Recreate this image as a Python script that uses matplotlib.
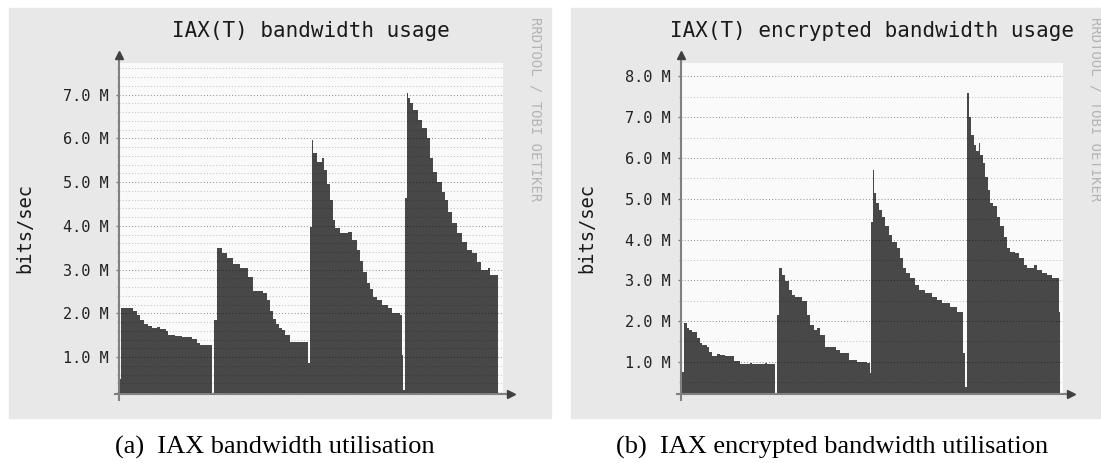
import numpy as np
import matplotlib.pyplot as plt
from matplotlib.patches import Rectangle
from matplotlib.ticker import MultipleLocator, FuncFormatter

W, H = 1101, 463

# --- data (step start in samples, value in Mbit/s) ---
plain_t = [0, 2, 14, 18, 21, 25, 29, 33, 38, 41, 47, 49, 56, 63, 73, 78, 81,
           93, 95, 98, 103, 108, 114, 121, 129, 134, 144, 148, 151, 154, 157,
           160, 163, 166, 171, 189, 191, 193, 194, 198, 203, 205, 208, 211,
           214, 216, 221, 229, 233, 238, 241, 244, 248, 251, 254, 258, 263,
           269, 273, 281, 283, 284, 286, 288, 289, 291, 294, 299, 303, 308,
           311, 314, 318, 323, 326, 329, 333, 338, 343, 348, 353, 358, 362,
           369, 371]
plain_mbps = [0.50, 2.12, 2.06, 1.96, 1.85, 1.77, 1.71, 1.67, 1.70, 1.65, 1.60,
              1.51, 1.48, 1.47, 1.41, 1.33, 1.29,
              0.00, 1.85, 3.49, 3.37, 3.26, 3.14, 3.03, 2.84, 2.52, 2.46, 2.31,
              2.05, 1.88, 1.75, 1.66, 1.62, 1.51, 1.35,
              0.87, 3.98, 5.96, 5.66, 5.46, 5.55, 5.27, 4.95, 4.59, 4.13, 3.94,
              3.83, 3.87, 3.68, 3.45, 3.20, 2.95, 2.70, 2.55, 2.38, 2.30, 2.20,
              2.12, 2.00, 1.96,
              1.05, 0.25, 4.63, 7.04, 6.91, 6.80, 6.64, 6.42, 6.23, 6.00, 5.54,
              5.24, 5.00, 4.78, 4.59, 4.32, 4.06, 3.83, 3.64, 3.46, 3.37, 3.18,
              2.99, 3.03, 2.88]
plain_end = 379

enc_t = [0, 3, 6, 8, 11, 16, 19, 21, 26, 28, 31, 36, 39, 44, 53, 59, 69, 71,
         84, 86, 94, 96, 98, 101, 104, 108, 111, 114, 121, 126, 129, 133, 136,
         139, 144, 149, 155, 159, 168, 176, 186, 189, 190, 192, 193, 195, 198,
         201, 204, 208, 211, 216, 219, 222, 225, 229, 234, 238, 244, 251, 256,
         261, 269, 276, 282, 284, 286, 288, 290, 293, 295, 298, 299, 302, 304,
         307, 309, 312, 316, 319, 323, 326, 329, 334, 338, 343, 346, 353, 356,
         361, 366, 371, 378]
enc_mbps = [0.74, 1.96, 1.82, 1.78, 1.72, 1.58, 1.45, 1.40, 1.36, 1.25, 1.15,
            1.18, 1.17, 1.14, 1.03, 0.94, 0.98, 0.94, 0.98, 0.94,
            0.00, 2.15, 3.29, 3.13, 2.97, 2.76, 2.64, 2.58, 2.48, 2.15, 1.90,
            1.78, 1.82, 1.66, 1.37, 1.37, 1.29, 1.21, 1.05, 0.99, 0.96,
            0.72, 4.44, 5.71, 5.13, 4.89, 4.73, 4.56, 4.32, 4.11, 3.95, 3.79,
            3.54, 3.29, 3.17, 3.05, 2.89, 2.76, 2.68, 2.60, 2.52, 2.44, 2.35,
            2.23,
            1.21, 0.39, 7.59, 7.01, 6.57, 6.32, 6.16, 6.36, 6.07, 5.87, 5.54,
            5.22, 4.89, 4.81, 4.56, 4.32, 4.07, 3.79, 3.70, 3.66, 3.54, 3.38,
            3.29, 3.38, 3.25, 3.17, 3.13, 3.05, 2.23]
enc_end = 379

plt.rcParams["font.family"] = "DejaVu Sans Mono"

fig = plt.figure(figsize=(W / 100, H / 100), dpi=100)
fig.patch.set_facecolor("white")


def fx(px):
    return px / W


def fy(py):
    return 1 - py / H


# grey rrdtool canvases
for x0, x1 in [(9, 551), (571, 1101)]:
    fig.patches.append(Rectangle((fx(x0), fy(418)), fx(x1 - x0), (418 - 8) / H,
                                 transform=fig.transFigure, color="#e8e8e8",
                                 zorder=-5))


def rrd_panel(x_left, x_right, t, v, t_end, ylo, yhi, minor, title, title_x,
              label_x, mark_x):
    ax = fig.add_axes([fx(x_left), fy(394), fx(x_right - x_left), (394 - 63) / H])
    ax.set_zorder(1)
    ax.set_facecolor("#fafafa")
    xs = np.append(t, t_end)
    ys = np.append(v, v[-1])
    ax.fill_between(xs, ys, step="post", color="#484848", lw=0, zorder=1)
    ax.set_xlim(0, x_right - x_left)
    ax.set_ylim(ylo, yhi)

    ax.yaxis.set_major_locator(MultipleLocator(1))
    ax.yaxis.set_minor_locator(MultipleLocator(minor))
    ax.yaxis.set_major_formatter(FuncFormatter(lambda val, _: f"{val:.1f} M"))
    ax.set_xticks([])
    ax.set_axisbelow(False)
    ax.grid(which="minor", axis="y", color="black", alpha=0.22, lw=0.75,
            linestyle=(0, (1, 2)))
    ax.grid(which="major", axis="y", color="black", alpha=0.4, lw=0.75,
            linestyle=(0, (1, 2)))
    ax.tick_params(axis="y", which="major", length=2.5, width=1, color="#808080",
                   labelsize=11, labelcolor="#222222", pad=4.7)
    ax.tick_params(axis="y", which="minor", length=1.5, width=0.8, color="#a0a0a0")
    for s in ax.spines.values():
        s.set_visible(False)

    # axes with arrows, rrdtool style
    xr = 1 + 8 / (x_right - x_left)
    ax.plot([0, 0], [-0.018, 1.015], transform=ax.transAxes, clip_on=False,
            color="#808080", lw=1.5, zorder=5)
    ax.plot([-0.01, xr - 0.01], [0, 0], transform=ax.transAxes, clip_on=False,
            color="#808080", lw=1.5, zorder=5)
    ax.plot([0], [1.024], marker="^", ms=6, color="#404040",
            transform=ax.transAxes, clip_on=False, zorder=6)
    ax.plot([xr], [0], marker=">", ms=6, color="#404040",
            transform=ax.transAxes, clip_on=False, zorder=6)

    fig.text(fx(title_x), fy(31), title, fontsize=15, color="#1a1a1a",
             ha="center", va="center")
    fig.text(fx(label_x), fy(228), "bits/sec", fontsize=13.5, color="#1a1a1a",
             rotation=90, ha="center", va="center")
    fig.text(fx(mark_x), fy(109), "RRDTOOL / TOBI OETIKER", fontsize=10,
             color="#b4b4b4", rotation=270, ha="center", va="center")
    return ax


rrd_panel(119, 503, plain_t, plain_mbps, plain_end, 0.16, 7.72, 0.2,
          "IAX(T) bandwidth usage", 310.5, 25, 535)
rrd_panel(680.7, 1063, enc_t, enc_mbps, enc_end, 0.21, 8.33, 0.5,
          "IAX(T) encrypted bandwidth usage", 872.5, 587, 1096)

fig.text(fx(275), fy(447), "(a)  IAX bandwidth utilisation",
         family="Liberation Serif", fontsize=19, ha="center", va="center")
fig.text(fx(832), fy(447), "(b)  IAX encrypted bandwidth utilisation",
         family="Liberation Serif", fontsize=19, ha="center", va="center")

fig.savefig("out.png", dpi=100)
